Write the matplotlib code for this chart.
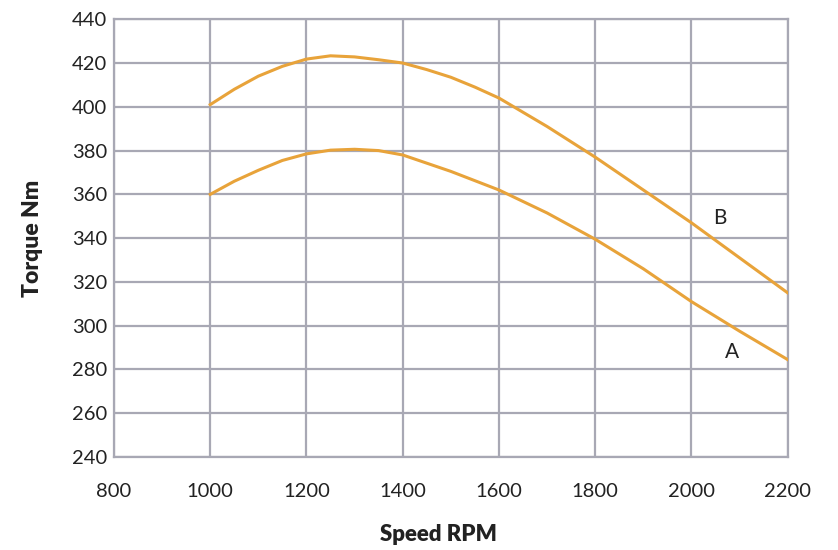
import matplotlib
matplotlib.use("Agg")
import matplotlib.pyplot as plt

# torque curves
rpm_b = [1000, 1050, 1100, 1150, 1200, 1250, 1300, 1350, 1400, 1450, 1500,
         1550, 1600, 1700, 1800, 1900, 2000, 2100, 2200]
torque_b = [401, 408, 414, 418.5, 421.8, 423.3, 422.8, 421.5, 420, 417, 413.5,
            409, 404, 391, 377, 362, 347, 331, 315]

rpm_a = [1000, 1050, 1100, 1150, 1200, 1250, 1300, 1350, 1400, 1500, 1600,
         1700, 1800, 1900, 2000, 2100, 2200]
torque_a = [360, 366, 371, 375.5, 378.5, 380.2, 380.6, 380, 378, 370.5, 362,
            351.5, 339.5, 326, 311, 297.5, 284.5]

x_ticks = [800, 1000, 1200, 1400, 1600, 1800, 2000, 2200]
y_ticks = [240, 260, 280, 300, 320, 340, 360, 380, 400, 420, 440]

plt.rcParams['font.family'] = ['Lato', 'DejaVu Sans']

fig = plt.figure(figsize=(8.38, 5.5), dpi=100)
ax = fig.add_axes([0.136, 0.169, 0.804, 0.796])

grid_col = '#a8a8b4'
line_col = '#e8a33a'

ax.plot(rpm_b, torque_b, color=line_col, lw=2.2, zorder=3)
ax.plot(rpm_a, torque_a, color=line_col, lw=2.2, zorder=3)

ax.text(2058, 349, 'B', fontsize=15, ha='center', va='center', color='#222222')
ax.text(2085, 288, 'A', fontsize=15, ha='center', va='center', color='#222222')

ax.set_xlim(800, 2200)
ax.set_ylim(240, 440)
ax.set_xticks(x_ticks)
ax.set_yticks(y_ticks)
ax.grid(True, color=grid_col, lw=1.6)
for s in ax.spines.values():
    s.set_color(grid_col)
    s.set_linewidth(1.6)
ax.tick_params(length=0, labelsize=14.5, labelcolor='#222222')
ax.tick_params(axis='x', pad=19)
ax.tick_params(axis='y', pad=5)

ax.set_xlabel('Speed RPM', fontsize=16, fontweight='heavy', color='#222222')
ax.set_ylabel('Torque Nm', fontsize=16.5, fontweight='heavy', color='#222222')
ax.xaxis.set_label_coords(0.481, -0.153)
ax.yaxis.set_label_coords(-0.105, 0.5)

fig.savefig('out.png', dpi=100)
